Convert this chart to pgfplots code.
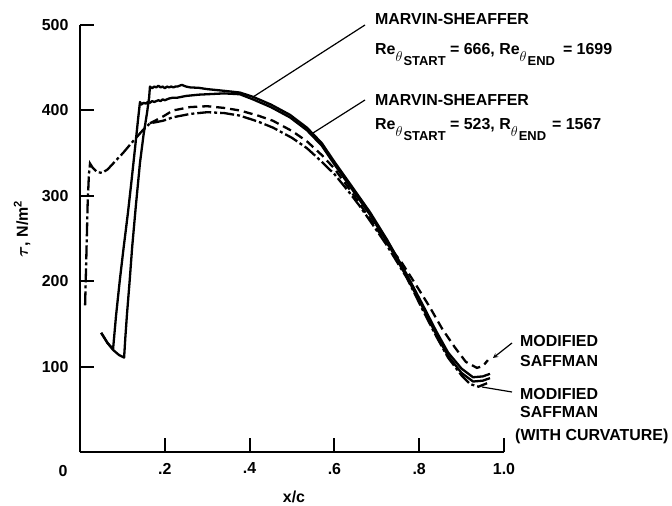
\documentclass[border=0pt]{standalone}
\usepackage{fontspec}
\setmainfont{Liberation Sans}
\usepackage{pgfplots}
\pgfplotsset{compat=1.18}

\newcommand\lab{\fontsize{16}{19}\selectfont\bfseries}
\newcommand\Rth[2]{#1\raisebox{-7bp}{\fontsize{14}{14}\selectfont$\theta$}\kern1bp\raisebox{-11bp}{\fontsize{13}{13}\selectfont #2}}

\begin{document}
\begin{tikzpicture}[x=1bp,y=1bp]
\useasboundingbox (-80,-53.5) rectangle (592,452.5);
\begin{axis}[
    scale only axis,
    width=424bp, height=427.5bp,
    xmin=0, xmax=1, ymin=0, ymax=500,
    axis x line=bottom, axis y line=left,
    axis line style={-, line width=2bp},
    xtick={0.2,0.4,0.6,0.8,1.0},
    xticklabels={.2,.4,.6,.8,1.0},
    ytick={100,200,300,400,500},
    tick align=inside,
    major tick length=14bp,
    tick style={line width=2bp, black},
    ticklabel style={font=\lab},
    xticklabel style={yshift=-7bp},
    yticklabel style={xshift=-8bp},
    /pgf/number format/assume math mode=true,
    clip=false,
]
% Marvin-Sheaffer, upper plateau
\addplot[black, line width=2.3bp, line join=round] coordinates {
 (0.050,140) (0.065,128) (0.078,120) (0.092,114) (0.104,111) (0.107,135)
 (0.111,163) (0.117,200) (0.123,240) (0.132,290) (0.1415,339) (0.150,372)
 (0.158,397) (0.163,415) (0.165,428) (0.170,426) (0.175,428) (0.180,427)
 (0.185,429) (0.190,427) (0.195,428) (0.200,426) (0.205,428) (0.210,427)
 (0.215,428) (0.220,427) (0.225,428) (0.230,428) (0.235,429) (0.240,430)
 (0.245,429) (0.250,428) (0.260,427) (0.280,426.5) (0.300,425) (0.340,423)
 (0.377,421) (0.408,416) (0.450,407) (0.495,395) (0.535,380) (0.570,362)
 (0.600,340) (0.640,312) (0.684,281) (0.724,249) (0.771,208) (0.809,172)
 (0.840,142) (0.868,117) (0.900,98) (0.927,88) (0.950,89) (0.967,92)
};
% Marvin-Sheaffer, lower plateau
\addplot[black, line width=2.3bp, line join=round] coordinates {
 (0.050,140) (0.065,128) (0.078,121) (0.085,160) (0.094,202) (0.103,240)
 (0.113,280) (0.122,320) (0.130,357) (0.137,390) (0.1415,410) (0.145,407)
 (0.150,409) (0.155,408) (0.160,410) (0.165,409) (0.170,411) (0.175,410)
 (0.180,411) (0.185,412) (0.190,411) (0.195,413) (0.200,412) (0.210,414)
 (0.219,415) (0.230,415) (0.250,417) (0.280,418.5) (0.300,419) (0.340,420)
 (0.377,419) (0.408,413) (0.450,404) (0.495,392) (0.535,377) (0.570,359)
 (0.600,337) (0.640,309) (0.684,278) (0.724,246) (0.771,205) (0.809,169)
 (0.840,138) (0.868,113) (0.900,93) (0.927,83) (0.950,84) (0.967,87)
};
% Modified Saffman
\addplot[black, line width=2.3bp, dash pattern=on 9bp off 5bp] coordinates {
 (0.165,385) (0.196,393) (0.219,400) (0.260,404) (0.300,405) (0.340,403)
 (0.377,400) (0.420,394) (0.455,388) (0.500,376) (0.535,364) (0.570,348)
 (0.600,332) (0.637,307) (0.680,276) (0.720,247) (0.759,222) (0.800,190)
 (0.825,170) (0.855,144) (0.884,123) (0.910,106) (0.936,99) (0.950,101)
 (0.962,108)
};
% Modified Saffman (with curvature)
\addplot[black, line width=2.3bp, dash pattern=on 14bp off 3bp on 3bp off 3bp] coordinates {
 (0.012,172) (0.015,230) (0.018,290) (0.021,325) (0.0236,338) (0.030,333)
 (0.040,328) (0.052,327) (0.065,331) (0.080,339) (0.101,350) (0.118,360)
 (0.134,369) (0.150,378) (0.165,385) (0.196,388) (0.219,392) (0.260,396)
 (0.300,398) (0.340,397) (0.377,394) (0.420,387) (0.455,380) (0.500,368)
 (0.535,356) (0.566,342) (0.601,325) (0.637,303) (0.660,288) (0.691,266)
 (0.724,242) (0.771,204) (0.809,166) (0.840,136) (0.868,111) (0.900,90)
 (0.920,80) (0.940,77) (0.960,81)
};
\end{axis}
\node[font=\lab] at (-17,-18.5) {0};
\node[font=\lab, rotate=90] at (-58,223.5) {{\boldmath$\tau$}, N/m\textsuperscript{2}};
\node[font=\lab] at (214,-44) {x/c};
\node[font=\lab, anchor=base west, inner sep=0] at (295,427.5) {MARVIN-SHEAFFER};
\node[font=\lab, anchor=base west, inner sep=0] at (295,397.5) {\Rth{Re}{START} = 666, \Rth{Re}{END}\hspace{8bp}= 1699};
\node[font=\lab, anchor=base west, inner sep=0] at (295,346.5) {MARVIN-SHEAFFER};
\node[font=\lab, anchor=base west, inner sep=0] at (295,322.5) {\Rth{Re}{START} = 523, \Rth{R}{END}\hspace{6bp}= 1567};
\draw[line width=1.2bp] (285,427.5) -- (173,355.5);
\draw[line width=1.2bp] (285,352.5) -- (233,319.5);
\node[font=\lab, anchor=base west, inner sep=0] at (440,105.5) {MODIFIED};
\node[font=\lab, anchor=base west, inner sep=0] at (440,85.5) {SAFFMAN};
\node[font=\lab, anchor=base west, inner sep=0] at (440,52.5) {MODIFIED};
\node[font=\lab, anchor=base west, inner sep=0] at (440,34.5) {SAFFMAN};
\node[font=\lab, anchor=base west, inner sep=0] at (435,11.5) {(WITH CURVATURE)};
\draw[line width=1.2bp, -stealth] (432,109.5) -- (413,94.5);
\draw[line width=1.2bp] (432,60.5) -- (402,65.5);
\end{tikzpicture}
\end{document}
